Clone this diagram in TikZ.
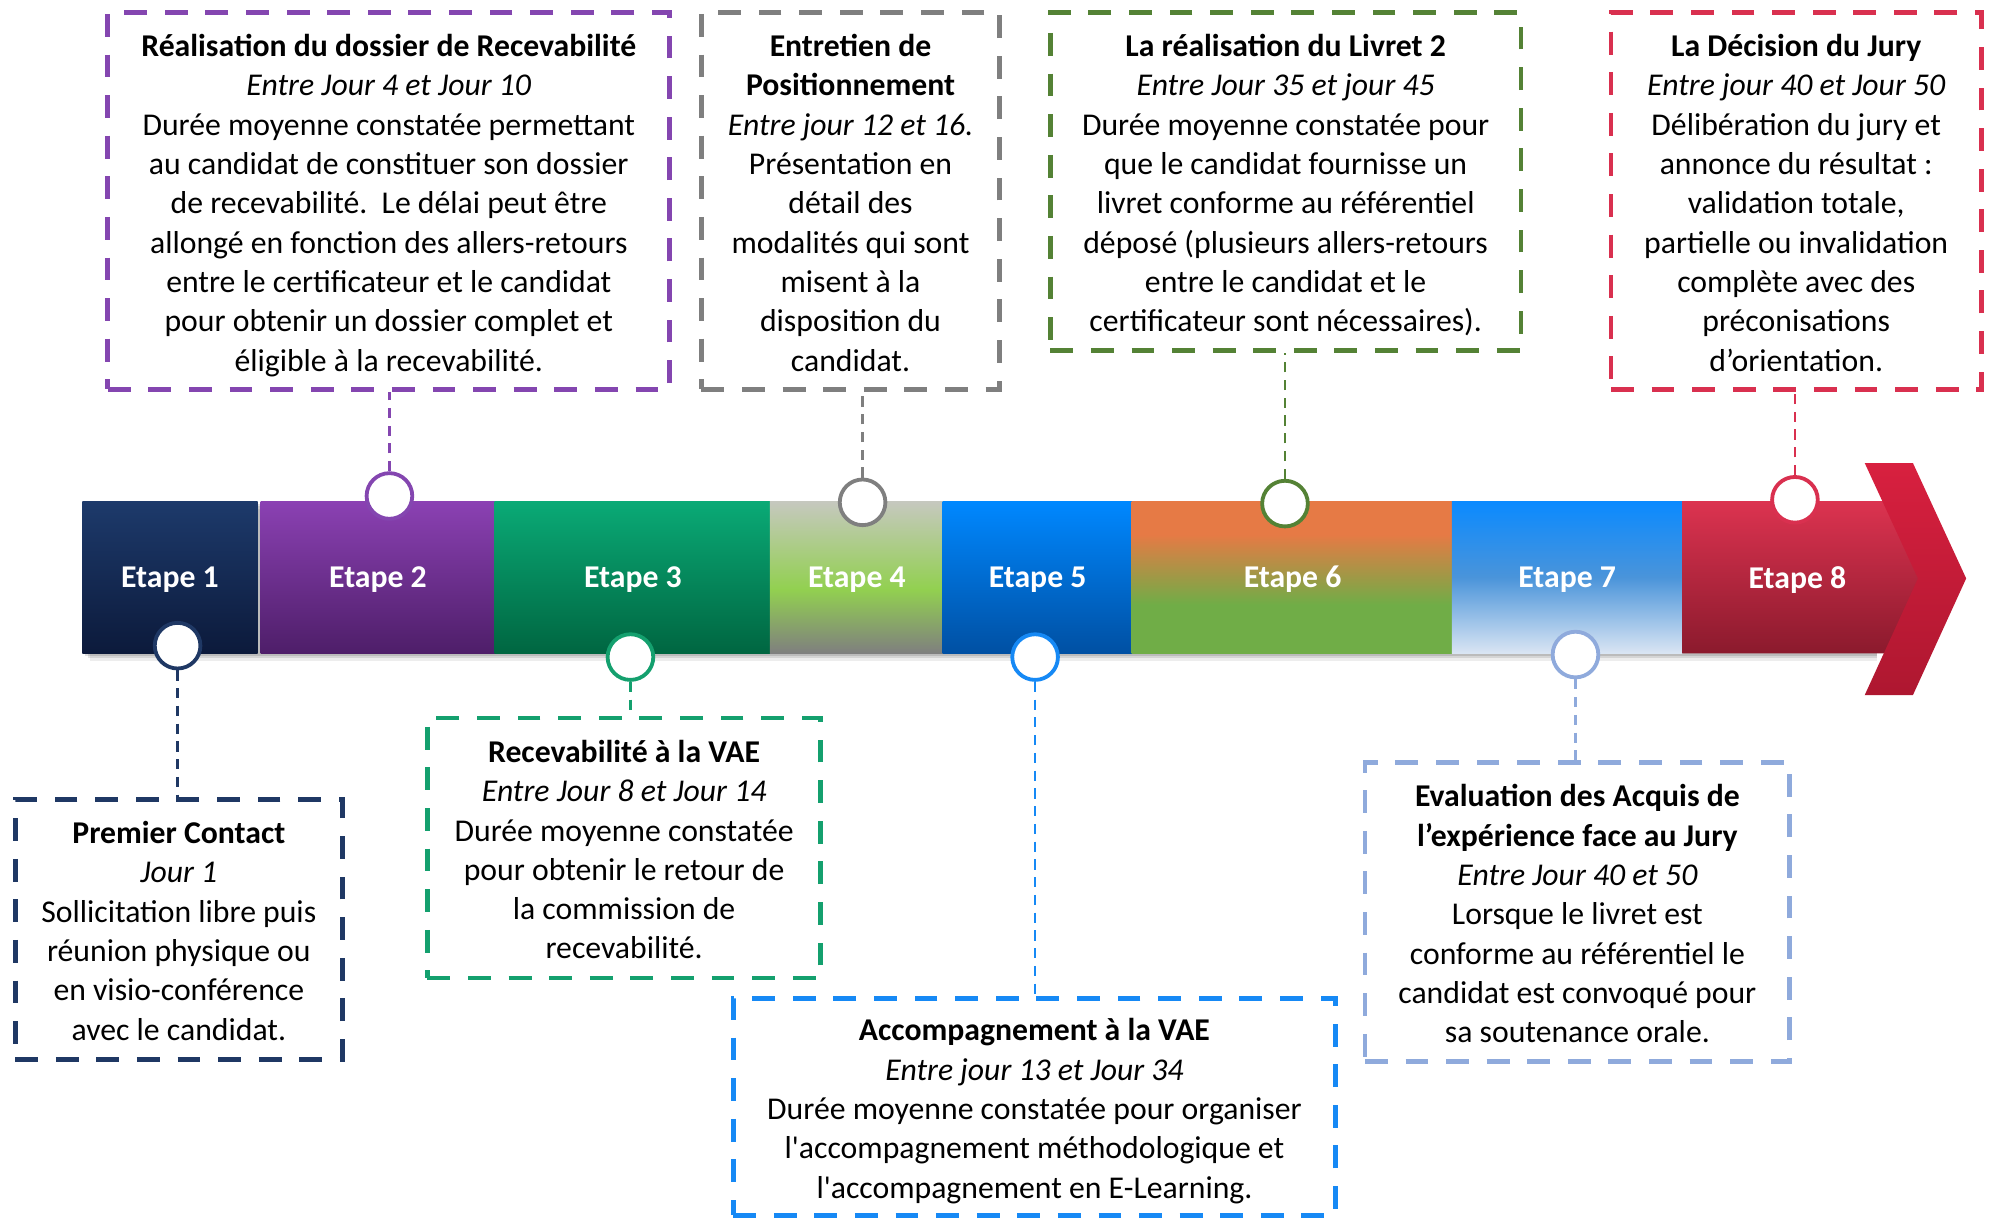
\documentclass[tikz,border=0pt]{standalone}
\usepackage{fontspec}
\setmainfont{Carlito}
\newfontfamily\sqfont{Carlito}[Ligatures=TeXOff]
\newcommand{\sq}{{\sqfont '}}
\newcommand{\fst}{\rule{0pt}{28pt}}
\newcommand{\lst}{\rule[-8pt]{0pt}{8pt}}
\definecolor{cnavy}{HTML}{1F3864}
\definecolor{cpurple}{HTML}{8446B0}
\definecolor{cgray}{HTML}{7F7F7F}
\definecolor{cgreenA}{HTML}{14A06E}
\definecolor{cblue}{HTML}{1689F5}
\definecolor{cgreenB}{HTML}{548235}
\definecolor{clblue}{HTML}{8FAADC}
\definecolor{cred}{HTML}{D9304F}
% segment colours
\definecolor{sAt}{HTML}{1D3A6B}\definecolor{sAb}{HTML}{0C1A3B}
\definecolor{sBt}{HTML}{8B41B3}\definecolor{sBb}{HTML}{4E1E69}
\definecolor{sCt}{HTML}{0AAA76}\definecolor{sCb}{HTML}{006641}
\definecolor{sDt}{HTML}{C6C8BF}\definecolor{sDm}{HTML}{92D050}\definecolor{sDb}{HTML}{7F7F7F}
\definecolor{sEt}{HTML}{0088FF}\definecolor{sEb}{HTML}{0050A3}
\definecolor{sFo}{HTML}{E67A45}\definecolor{sFg}{HTML}{70AD47}
\definecolor{sGt}{HTML}{0A8AFF}\definecolor{sGm}{HTML}{4A94DA}\definecolor{sGb}{HTML}{DAE5F3}
\definecolor{sHt}{HTML}{DC3350}\definecolor{sHb}{HTML}{8B1A2D}
\definecolor{chT}{HTML}{D8203F}\definecolor{chB}{HTML}{AE1730}
\pgfdeclareverticalshading{shfour}{100bp}{color(0bp)=(sDb); color(25bp)=(sDb); color(46bp)=(sDm); color(75bp)=(sDt); color(100bp)=(sDt)}
\pgfdeclareverticalshading{shsix}{100bp}{color(0bp)=(sFg); color(41bp)=(sFg); color(64bp)=(sFo); color(100bp)=(sFo)}
\pgfdeclareverticalshading{shseven}{100bp}{color(0bp)=(sGb); color(25bp)=(sGb); color(50bp)=(sGm); color(75bp)=(sGt); color(100bp)=(sGt)}
\begin{document}
\begin{tikzpicture}[x=1pt,y=-1pt,
  seg/.style={rectangle, minimum height=120pt, inner sep=0pt, text=white, text depth=0pt,
    font=\fontsize{25}{30}\selectfont\bfseries},
  dot/.style={circle, minimum size=36pt, inner sep=0pt, fill=white, line width=3pt},
  infobox/.style={rectangle, line width=3.8pt, dash pattern=on 18pt off 14pt,
    align=center, inner sep=0pt, font=\fontsize{25}{31}\selectfont},
  conn/.style={line width=2pt, dash pattern=on 8pt off 6pt}]
\useasboundingbox (0,0) rectangle (1568,960);
% soft shadow of the bar
\foreach \o/\op in {2/0.12,4/0.10,6/0.07}{
  \fill[black, opacity=\op] (65+\o,395+\o) rectangle (1480,515+\o);}
% segments
\node[seg, top color=sAt, bottom color=sAb, minimum width=138pt] (s1) at (134,455) {Etape 1};
\node[seg, top color=sBt, bottom color=sBb, minimum width=185pt] (s2) at (298,455) {Etape 2};
\node[seg, top color=sCt, bottom color=sCb, minimum width=218pt] (s3) at (499,455) {Etape 3};
\node[seg, shading=shfour, minimum width=137pt] (s4) at (675.5,455) {Etape 4};
\node[seg, top color=sEt, bottom color=sEb, minimum width=150pt] (s5) at (818,455) {Etape 5};
\node[seg, shading=shsix, minimum width=254pt] (s6) at (1019,455) {Etape 6};
\node[seg, shading=shseven, minimum width=182pt] (s7) at (1235.5,455) {Etape 7};
\path[top color=sHt, bottom color=sHb] (1326,395) -- (1490,395) -- (1518,456) -- (1490,515) -- (1326,515) -- cycle;
% chevron
\path[top color=chT, bottom color=chB] (1470,365) -- (1508,365) -- (1550,456) -- (1508,548) -- (1470,548) -- (1512,456) -- cycle;
\node[seg, minimum width=182pt] (s8) at (1417,455) {Etape 8};
% info boxes
\node[infobox, draw=cpurple, minimum width=443pt, minimum height=297pt] (b1) at (306.5,158.5)
  {\fst{\bfseries Réalisation du dossier de Recevabilité}\\ \textit{Entre Jour 4 et Jour 10}\\
   Durée moyenne constatée permettant\\ au candidat de constituer son dossier\\
   de recevabilité.\ \ Le délai peut être\\ allongé en fonction des allers-retours\\
   entre le certificateur et le candidat\\ pour obtenir un dossier complet et\\
   éligible à la recevabilité.\lst};
\node[infobox, draw=cgray, minimum width=235pt, minimum height=297pt] (b2) at (670.5,158.5)
  {\fst{\bfseries Entretien de}\\ {\bfseries Positionnement}\\ \textit{Entre jour 12 et 16.}\\
   Présentation en\\ détail des\\ modalités qui sont\\ misent à la\\ disposition du\\ candidat.\lst};
\node[infobox, draw=cgreenB, minimum width=371pt, minimum height=266pt] (b3) at (1013.5,143)
  {\fst{\bfseries La réalisation du Livret 2}\\ \textit{Entre Jour 35 et jour 45}\\
   Durée moyenne constatée pour\\ que le candidat fournisse un\\ livret conforme au référentiel\\
   déposé (plusieurs allers-retours\\ entre le candidat et le\\ certificateur sont nécessaires).\lst};
\node[infobox, draw=cred, minimum width=292pt, minimum height=297pt] (b4) at (1416,158.5)
  {\fst{\bfseries La Décision du Jury}\\ \textit{Entre jour 40 et Jour 50}\\ Délibération du jury et\\
   annonce du résultat :\\ validation totale,\\ partielle ou invalidation\\ complète avec des\\
   préconisations\\ d’orientation.\lst};
\node[infobox, draw=cnavy, minimum width=258pt, minimum height=205pt] (b5) at (141,732.5)
  {\fst{\bfseries Premier Contact}\\ \textit{Jour 1}\\ Sollicitation libre puis\\ réunion physique ou\\
   en visio-conférence\\ avec le candidat.\lst};
\node[infobox, draw=cgreenA, minimum width=310pt, minimum height=205pt] (b6) at (492,668.5)
  {\fst{\bfseries Recevabilité à la VAE}\\ \textit{Entre Jour 8 et Jour 14}\\ Durée moyenne constatée\\
   pour obtenir le retour de\\ la commission de\\ recevabilité.\lst};
\node[infobox, draw=cblue, minimum width=475pt, minimum height=171pt] (b7) at (815.5,872.5)
  {\fst{\bfseries Accompagnement à la VAE}\\ \textit{Entre jour 13 et Jour 34}\\
   Durée moyenne constatée pour organiser\\ l\sq accompagnement méthodologique et\\
   l\sq accompagnement en E-Learning.\lst};
\node[infobox, draw=clblue, minimum width=335pt, minimum height=236pt] (b8) at (1243.5,719)
  {\fst{\bfseries Evaluation des Acquis de}\\ {\bfseries l’expérience face au Jury}\\
   \textit{Entre Jour 40 et 50}\\ Lorsque le livret est\\ conforme au référentiel le\\
   candidat est convoqué pour\\ sa soutenance orale.\lst};
% circles
\node[dot, draw=cnavy] (c1) at (140,509) {};
\node[dot, draw=cpurple] (c2) at (307,391) {};
\node[dot, draw=cgreenA] (c3) at (497,518) {};
\node[dot, draw=cgray] (c4) at (680,396) {};
\node[dot, draw=cblue] (c5) at (816,518) {};
\node[dot, draw=cgreenB] (c6) at (1013,397) {};
\node[dot, draw=clblue] (c7) at (1242,516) {};
\node[dot, draw=cred] (c8) at (1415,394) {};
% connectors
\draw[conn, cnavy] (c1.south) -- (c1.south |- b5.north);
\draw[conn, cpurple] (c2.north) -- (c2.north |- b1.south);
\draw[conn, cgreenA] (c3.south) -- (c3.south |- b6.north);
\draw[conn, cgray] (c4.north) -- (c4.north |- b2.south);
\draw[conn, cblue] (c5.south) -- (c5.south |- b7.north);
\draw[conn, cgreenB] (c6.north) -- (c6.north |- b3.south);
\draw[conn, clblue] (c7.south) -- (c7.south |- b8.north);
\draw[conn, cred] (c8.north) -- (c8.north |- b4.south);
\end{tikzpicture}
\end{document}
